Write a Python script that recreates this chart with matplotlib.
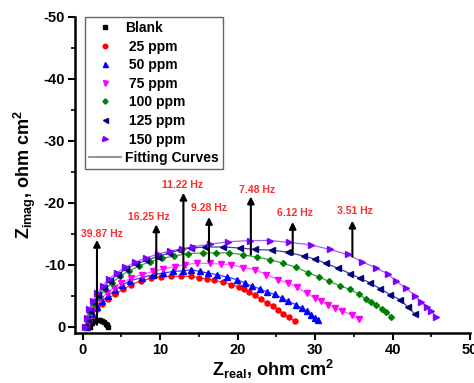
import matplotlib
matplotlib.use("Agg")
import matplotlib.pyplot as plt
from matplotlib.ticker import MultipleLocator

plt.rcParams['font.family'] = ['Liberation Sans', 'DejaVu Sans']
plt.rcParams['font.weight'] = 'bold'
plt.rcParams['axes.unicode_minus'] = False
plt.rcParams['mathtext.fontset'] = 'custom'
plt.rcParams['mathtext.rm'] = 'Liberation Sans:bold'
plt.rcParams['mathtext.bf'] = 'Liberation Sans:bold'

# --- data (Z' , Z'') ---
blank_x = [0.9, 1.0, 1.2, 1.4, 1.6, 1.9, 2.2, 2.5, 2.8, 3.0, 3.2, 3.3]
blank_y = [0, -0.35, -0.65, -0.85, -0.98, -1.05, -1.02, -0.9, -0.7, -0.45, -0.2, 0]

p25_x = [0.5, 0.8, 1.2, 1.8, 2.5, 3.3, 4.2, 5.2, 6.3, 7.5, 8.8, 10.1, 11.4, 12.7, 14.0, 15.0,
         16.0, 16.9, 18.1, 19.2, 20.2, 20.8, 21.4, 22.2, 23.0, 23.8, 24.5, 25.2, 25.9, 26.6, 27.4]
p25_y = [0, -0.9, -1.8, -2.8, -3.7, -4.5, -5.3, -6.0, -6.8, -7.4, -7.8, -8.0, -8.1, -8.1, -8.1, -7.9,
         -7.7, -7.5, -7.15, -6.8, -6.4, -6.0, -5.6, -5.05, -4.4, -3.8, -3.3, -2.7, -2.1, -1.5, -0.85]

p50_x = [0.5, 0.8, 1.2, 1.8, 2.5, 3.3, 4.2, 5.1, 6.1, 7.6, 9.1, 10.4, 11.7, 12.9, 14.0, 15.1, 16.2,
         17.3, 18.6, 19.9, 20.9, 21.9, 22.9, 23.8, 24.8, 25.7, 26.5, 27.5, 28.3, 28.9, 29.5, 30.0, 30.4]
p50_y = [0, -1.0, -2.0, -3.1, -4.1, -5.0, -5.9, -6.7, -7.4, -7.9, -8.4, -8.65, -8.9, -9.0, -9.2, -8.9,
         -8.65, -8.4, -8.0, -7.6, -7.05, -6.5, -6.1, -5.55, -5.2, -4.6, -4.1, -3.55, -3.0, -2.5, -1.95,
         -1.4, -1.0]

p75_x = [0.4, 0.7, 1.1, 1.6, 2.3, 3.1, 4.0, 5.0, 6.2, 7.6, 9.1, 10.4, 11.9, 13.2, 14.7, 16.4, 17.9,
         19.2, 20.7, 22.2, 23.7, 25.2, 26.5, 27.6, 28.9, 30.0, 30.8, 31.6, 32.6, 33.5, 34.7, 35.6]
p75_y = [0, -1.1, -2.2, -3.3, -4.4, -5.4, -6.3, -7.1, -7.8, -8.4, -8.9, -9.3, -9.7, -10.0, -10.25,
         -10.2, -10.1, -10.0, -9.5, -9.2, -8.4, -7.6, -7.05, -6.4, -5.4, -4.6, -4.1, -3.55, -3.0,
         -2.5, -1.9, -1.2]

p100_x = [0.3, 0.6, 1.0, 1.5, 2.1, 2.9, 3.8, 4.8, 6.0, 7.3, 8.7, 10.2, 11.8, 13.6, 15.5, 17.2, 18.9,
          20.7, 22.5, 24.2, 25.9, 27.5, 29.1, 30.5, 31.8, 33.2, 34.5, 35.6, 36.5, 37.2, 37.9, 38.6,
          39.2, 39.8]
p100_y = [0, -1.2, -2.4, -3.6, -4.8, -6.0, -7.1, -8.1, -9.0, -9.8, -10.5, -11.0, -11.4, -11.8, -11.9,
          -11.9, -11.9, -11.6, -11.2, -10.8, -10.2, -9.6, -8.7, -8.0, -7.3, -6.6, -6.0, -5.3, -4.5,
          -4.0, -3.5, -2.9, -2.4, -1.6]

p125_x = [0.3, 0.5, 0.9, 1.4, 2.0, 2.7, 3.5, 4.5, 5.6, 6.9, 8.2, 9.7, 11.2, 12.6, 14.0, 15.8, 18.1,
          20.3, 22.2, 24.4, 26.5, 28.5, 30.0, 31.4, 33.0, 34.5, 35.8, 37.1, 38.4, 39.7, 41.0, 42.0, 42.9]
p125_y = [0, -1.3, -2.6, -3.9, -5.1, -6.3, -7.4, -8.4, -9.3, -10.1, -10.7, -11.3, -11.9, -12.4, -12.7,
          -12.85, -12.85, -12.7, -12.45, -12.35, -12.0, -11.4, -10.9, -10.2, -9.4, -8.55, -7.8, -7.05,
          -6.1, -5.15, -4.3, -3.1, -2.0]

p150_x = [0.3, 0.5, 0.8, 1.3, 1.9, 2.6, 3.4, 4.4, 5.5, 6.8, 8.2, 9.7, 11.3, 12.8, 14.2, 16.4, 18.8,
          21.6, 24.2, 26.6, 29.5, 31.9, 34.2, 36.0, 37.9, 39.4, 40.4, 41.7, 42.9, 43.7, 44.4, 45.0, 45.6]
p150_y = [0, -1.4, -2.8, -4.1, -5.4, -6.6, -7.7, -8.7, -9.6, -10.4, -11.1, -11.7, -12.2, -12.6, -12.9,
          -13.3, -13.7, -13.9, -13.9, -13.6, -13.2, -12.45, -11.65, -10.5, -9.45, -8.5, -7.4, -6.2,
          -5.0, -3.9, -3.2, -2.5, -1.6]

labels = ["Blank", " 25 ppm", " 50 ppm", " 75 ppm", " 100 ppm", " 125 ppm", " 150 ppm"]

# frequency markers: label, x, arrow bottom, arrow top, label x, label y
freq_labels = ["39.87 Hz", "16.25 Hz", "11.22 Hz", "9.28 Hz", "7.48 Hz", "6.12 Hz", "3.51 Hz"]
freq_x = [1.85, 9.5, 13.0, 16.3, 21.7, 27.1, 34.8]
freq_bottom = [-0.3, -7.9, -9.2, -10.5, -11.6, -11.6, -11.3]
freq_top = [-14.0, -16.5, -21.6, -17.7, -21.0, -16.9, -17.1]
freq_lx = [2.45, 8.5, 12.9, 16.3, 22.5, 27.4, 35.1]
freq_ly = [-15.0, -17.7, -22.9, -19.2, -22.1, -18.4, -18.7]

fig = plt.figure(figsize=(4.74, 3.83), dpi=100)
ax = fig.add_axes([0.158, 0.131, 0.834, 0.825])

series = [
    (blank_x, blank_y, 's', 'black', 'black'),
    (p25_x, p25_y, 'o', '#ff0000', '#ff3030'),
    (p50_x, p50_y, '^', '#0000ff', '#3a3aff'),
    (p75_x, p75_y, 'v', '#ff00ff', '#ff60ff'),
    (p100_x, p100_y, 'D', '#008000', '#40a040'),
    (p125_x, p125_y, '<', '#000080', '#4040a0'),
    (p150_x, p150_y, '>', '#8000ff', '#a060ff'),
]
for (xs, ys, m, c, lc), lab in zip(series, labels):
    ms = {'s': 3.0, 'o': 3.6, 'D': 3.0}.get(m, 4.0)
    if lab != "Blank":
        ax.plot(xs, ys, '-', color=lc, lw=0.9, zorder=2)
    ax.plot(xs, ys, m, color=c, ms=ms, mec=c, ls='none', label=lab, zorder=3)
ax.plot([], [], '-', color='gray', lw=1.2, label='Fitting Curves')

for t, x, b, top, lx, ly in zip(freq_labels, freq_x, freq_bottom, freq_top, freq_lx, freq_ly):
    ax.annotate('', xy=(x, top), xytext=(x, b),
                arrowprops=dict(arrowstyle='-|>', color='black', lw=1.5,
                                mutation_scale=10, shrinkA=0, shrinkB=0), zorder=4)
    ax.text(lx, ly, t, color='#ff2a2a', fontsize=7.5, fontweight='bold',
            ha='center', va='center')

ax.set_xlim(-1, 50)
ax.set_ylim(1, -50)
ax.xaxis.set_major_locator(MultipleLocator(10))
ax.xaxis.set_minor_locator(MultipleLocator(5))
ax.yaxis.set_major_locator(MultipleLocator(10))
ax.yaxis.set_minor_locator(MultipleLocator(5))
ax.tick_params(which='major', direction='out', length=5, width=1.5, labelsize=10.5, pad=2)
ax.tick_params(which='minor', direction='out', length=3, width=1.2)
for lbl in ax.get_xticklabels() + ax.get_yticklabels():
    lbl.set_fontweight('bold')
for s in ['top', 'right']:
    ax.spines[s].set_visible(False)
for s in ['left', 'bottom']:
    ax.spines[s].set_linewidth(1.8)

ax.set_xlabel(r'$\mathbf{Z_{real}}$, ohm cm$^{\mathbf{2}}$', fontsize=13, fontweight='bold', labelpad=1)
ax.set_ylabel(r'$\mathbf{Z_{imag}}$, ohm cm$^{\mathbf{2}}$', fontsize=13, fontweight='bold', labelpad=4)

leg = ax.legend(loc='upper left', bbox_to_anchor=(0.025, 1.0), frameon=True, fancybox=False,
                edgecolor='#404040', fontsize=10, labelspacing=0.33, handlelength=2.3,
                handletextpad=0.3, borderpad=0.3, borderaxespad=0, markerscale=0.9)
leg.get_frame().set_linewidth(1.0)
for txt in leg.get_texts():
    txt.set_fontweight('bold')

fig.savefig('out.png', dpi=100)
